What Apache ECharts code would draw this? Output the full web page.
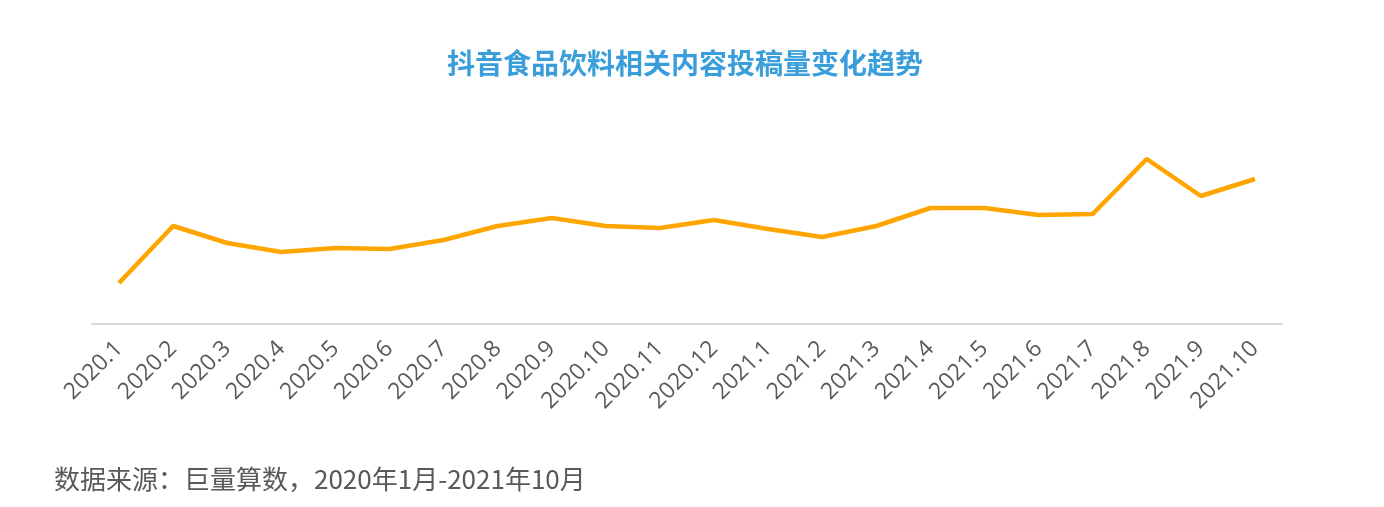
<!DOCTYPE html>
<html><head><meta charset="utf-8">
<script src="https://cdn.jsdelivr.net/npm/echarts@6/dist/echarts.min.js"></script>
<style>html,body{margin:0;padding:0;background:#fff}#c{width:1384px;height:507px}</style>
</head><body><div id="c"></div>
<script>
const categories = ['2020.1','2020.2','2020.3','2020.4','2020.5','2020.6','2020.7','2020.8','2020.9','2020.10','2020.11','2020.12','2021.1','2021.2','2021.3','2021.4','2021.5','2021.6','2021.7','2021.8','2021.9','2021.10'];
const values = [41, 98, 81, 72, 76, 75, 84, 98, 106, 98, 96, 104, 95, 87, 98, 116, 116, 109, 110, 165, 128, 145];
const titleText = '抖音食品饮料相关内容投稿量变化趋势';
const sourceText = '数据来源：巨量算数，2020年1月-2021年10月';

const chart = echarts.init(document.getElementById('c'), null, {renderer:'canvas'});
chart.setOption({
  backgroundColor:'#fff',
  animation:false,
  title:[{
    text:titleText, left:442, top:44,
    textStyle:{fontFamily:'Noto Sans CJK SC', fontSize:28, fontWeight:'bold', color:'#3a9edb'}
  },{
    text:sourceText, left:49, top:461,
    textStyle:{fontFamily:'Noto Sans CJK SC', fontSize:26, fontWeight:'normal', color:'#595959'}
  }],
  grid:{left:92, right:102, top:124, bottom:183},
  xAxis:{
    type:'category', data:categories, boundaryGap:true,
    axisLine:{lineStyle:{color:'#d9d9d9', width:2}},
    axisTick:{show:false},
    axisLabel:{rotate:45, interval:0, margin:21, color:'#595959', fontSize:23, fontFamily:'Open Sans'}
  },
  yAxis:{type:'value', min:0, max:200, show:false, splitLine:{show:false}},
  series:[{
    type:'line', data:values, showSymbol:false, symbol:'none',
    lineStyle:{color:'#ffa500', width:4.5}, itemStyle:{color:'#ffa500'}
  }]
});
</script></body></html>
